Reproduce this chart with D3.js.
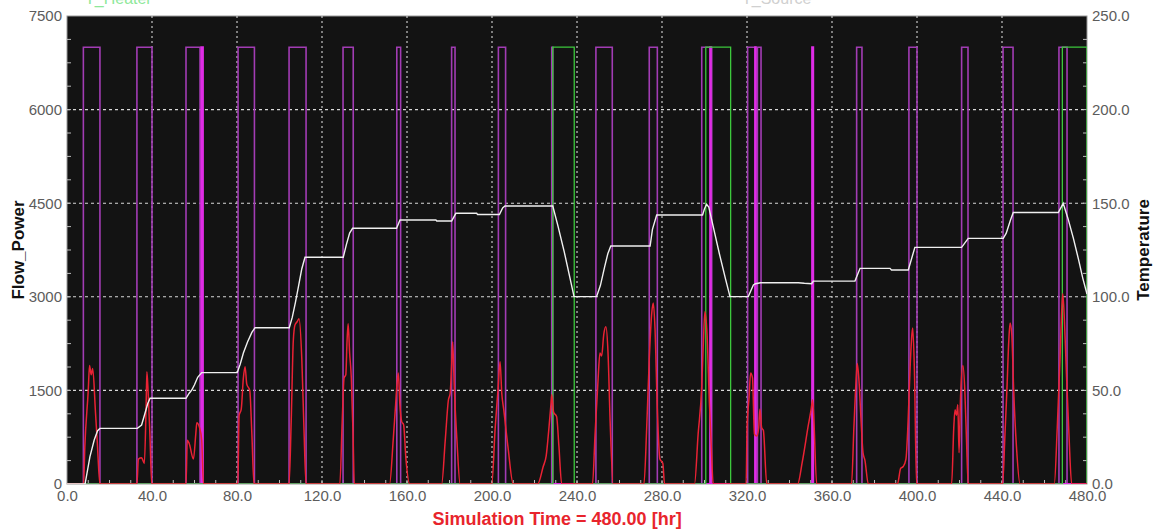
<!DOCTYPE html>
<html>
<head>
<meta charset="utf-8">
<script src="https://cdn.jsdelivr.net/npm/d3@7"></script>
<style>
	body { margin: 0; background: #fff; }
	svg { display: block; font-family: "Liberation Sans", Arial, sans-serif; }
</style>
</head>
<body>
<div id="chart"></div>
<script>
// Chart size (plot box in pixels)
var width = 1160, height = 531;
var plotLeft = 67, plotRight = 1087, plotTop = 16, plotBottom = 484;

// Time axis [hr]
var timeTicks = [0, 40, 80, 120, 160, 200, 240, 280, 320, 360, 400, 440, 480];
var powerTicks = [0, 1500, 3000, 4500, 6000, 7500];
var tempTicks = [0, 50, 100, 150, 200, 250];

// Pump on / off intervals [start hr, end hr], pulse level on the power axis
var pulseLevel = 7000;
var purplePulses = [
	[7.7, 15.5], [32.9, 40.0], [56.0, 62.6], [80.5, 88.2], [104.5, 112.5],
	[129.9, 134.7], [155.2, 157.0], [181.0, 182.6], [203.0, 206.4], [228.1, 228.6],
	[248.9, 256.6], [274.0, 277.8], [298.7, 303.4], [320.3, 323.8], [324.9, 326.6],
	[371.6, 374.1], [396.2, 400.0], [421.0, 424.0], [440.5, 445.2], [466.8, 470.6]
];
var magentaPulses = [
	[63.2, 64.0], [302.6, 303.0], [350.6, 351.2], [323.8, 324.2]
];
var greenPulses = [
	[228.6, 238.7], [300.6, 312.3], [468.4, 480]
];

// Flow_Power [t, value]
var flowPower = [
	[0, 0], [7.8, 0], [8.4, 600], [10.0, 1500], [10.6, 1900], [11.4, 1750], [12.1, 1850], [13.4, 1150], [14.2, 700], [15.5, 0],
	[32.9, 0], [33.6, 400], [35.1, 420], [36.4, 330], [37.2, 1200], [37.6, 1800], [38.2, 1460], [39.0, 800], [39.9, 0],
	[56.0, 0], [56.6, 700], [57.5, 650], [59.5, 400], [60.6, 800], [61.1, 980], [62.4, 900], [63.4, 700], [64.2, 0],
	[80.4, 0], [81.0, 1100], [82.0, 1200], [83.0, 1700], [83.8, 1880], [84.6, 1600], [86.0, 1500], [87.0, 800], [88.0, 0],
	[104.5, 0], [105.5, 1000], [106.5, 2300], [107.3, 2550], [108.3, 2600], [109.2, 2650], [110.5, 2000], [111.5, 900], [112.5, 0],
	[128.4, 0], [129.5, 1000], [130.4, 1700], [131.2, 1750], [131.8, 2300], [132.3, 2570], [133.0, 2100], [133.8, 1700], [134.6, 800], [135.2, 0],
	[151.8, 0], [153.5, 700], [154.5, 1200], [155.3, 1600], [155.9, 1780], [156.6, 1300], [157.5, 1000], [158.4, 950], [159.5, 400], [161.3, 0],
	[176.3, 0], [178.0, 700], [179.5, 1350], [180.3, 1450], [181.0, 1900], [181.5, 2280], [182.2, 1600], [183.5, 700], [185.0, 0],
	[199.9, 0], [201.5, 900], [202.8, 1500], [203.8, 1960], [204.6, 1450], [205.5, 1200], [207.5, 600], [210.0, 0],
	[221.5, 0], [224.1, 280], [225.5, 450], [226.8, 900], [227.8, 1300], [228.1, 1430], [229.0, 1150], [230.4, 1080], [231.5, 600], [232.8, 0],
	[247.3, 0], [248.5, 800], [249.8, 1600], [250.8, 2100], [251.6, 2050], [252.6, 2400], [253.6, 2520], [254.6, 2100], [255.6, 1000], [257.0, 0],
	[271.5, 0], [272.8, 900], [274.0, 2000], [275.2, 2750], [275.9, 2900], [276.7, 2500], [277.8, 1200], [279.0, 400], [280.4, 330], [281.2, 0],
	[295.3, 0], [297.0, 800], [298.7, 1560], [299.5, 2300], [300.2, 2760], [301.2, 2400], [302.3, 1300], [303.2, 600], [304.1, 0],
	[319.6, 0], [320.0, 860], [321.0, 1400], [321.7, 1780], [322.6, 1700], [323.5, 800], [324.6, 770], [325.5, 900], [326.1, 1200], [326.9, 900], [327.7, 860], [329.3, 0],
	[343.8, 0], [346.0, 350], [348.9, 950], [350.2, 1200], [350.9, 1350], [351.5, 1000], [352.8, 0],
	[369.2, 0], [370.3, 900], [371.4, 1700], [371.9, 1930], [372.8, 1600], [373.7, 1000], [374.6, 500], [375.5, 380], [377.1, 0],
	[390.8, 0], [392.3, 250], [393.5, 280], [394.8, 400], [395.8, 1000], [396.8, 1900], [397.6, 2400], [398.0, 2500], [398.8, 1800], [399.8, 0],
	[416.3, 0], [417.3, 900], [417.9, 1190], [418.6, 1100], [419.2, 1270], [419.8, 500], [420.5, 1400], [421.6, 1900], [422.5, 1500], [423.3, 700], [424.1, 0],
	[440.3, 0], [441.4, 800], [442.3, 1500], [443.2, 2300], [443.8, 2580], [444.6, 2400], [445.5, 1500], [446.8, 600], [448.5, 0],
	[464.6, 0], [466.0, 900], [467.3, 2000], [468.0, 2700], [468.6, 3050], [469.4, 2600], [470.4, 1700], [471.5, 800], [472.8, 0],
	[480, 0]
];

// Temperature [t, value]
var temperature = [
	[0, 0], [8.5, 0], [10.8, 14.6], [12.8, 23.5], [14.4, 28.5], [15.5, 29.7], [33.1, 29.7], [35.1, 31.5], [36.5, 37], [38, 43], [39.1, 45.8],
	[56, 45.8], [57.5, 48.5], [58.7, 50.2], [60, 53], [61.5, 57], [63.4, 59.5], [80.1, 59.5], [81.5, 64], [83, 70], [85, 76], [87, 81], [88.5, 83.5],
	[104.6, 83.5], [106, 89], [107.5, 97], [109, 106], [110.5, 115], [112, 121.1], [130, 121.1], [131.5, 128], [133, 134], [134.4, 136.6],
	[155.1, 136.6], [156.7, 141], [173.6, 141], [174, 140.5], [181, 140.5], [183, 144.6], [192.8, 144.6], [193.2, 144], [203.5, 144], [205, 147.5], [206.1, 148.5],
	[228.6, 148.5], [231, 138], [234, 124], [236.5, 111], [238.6, 100.1], [249.2, 100.1], [251, 106], [253, 116], [254.5, 123], [255.9, 127.1],
	[274.4, 127.1], [275.5, 136], [277.5, 143.7], [299.1, 143.7], [300, 147], [301, 149.4], [302, 148], [304, 138], [307, 123], [310, 109], [312, 100.1],
	[320.6, 100.1], [323, 106.3], [324, 107], [326.4, 107.5], [344.1, 107.5], [347, 107.2], [350.4, 107], [351.2, 108.4], [370.8, 108.4], [373.2, 115.2],
	[387.3, 115.2], [388, 114.3], [395.9, 114.3], [399, 126.4], [421, 126.4], [424.1, 131.2], [440.6, 131.2], [442, 134], [444, 141], [445.3, 145],
	[466.5, 145], [468.8, 149.9], [471, 142], [473.6, 131.2], [476, 120], [478, 110], [480, 101.5]
];

var x = d3.scaleLinear().domain([0, 480]).range([plotLeft, plotRight]);
var yP = d3.scaleLinear().domain([0, 7500]).range([plotBottom, plotTop]);
var yT = d3.scaleLinear().domain([0, 250]).range([plotBottom, plotTop]);

var svg = d3.select("#chart").append("svg")
	.attr("width", width)
	.attr("height", height);

// Legend names, cut off at the top edge in the picture
svg.append("text").attr("x", 85).attr("y", 4)
	.attr("fill", "#8ee89a").attr("font-size", 16).text("T_Heater");
svg.append("text").attr("x", 742).attr("y", 4)
	.attr("fill", "#d0d0d0").attr("font-size", 16).text("T_Source");

svg.append("rect")
	.attr("x", plotLeft).attr("y", plotTop)
	.attr("width", plotRight - plotLeft).attr("height", plotBottom - plotTop)
	.attr("fill", "#131313")
	.attr("stroke", "#9a9a9a").attr("stroke-width", 1);

svg.append("defs").append("clipPath").attr("id", "plot")
	.append("rect").attr("x", plotLeft).attr("y", plotTop - 1)
	.attr("width", plotRight - plotLeft).attr("height", plotBottom - plotTop + 1);

// Grid
var grid = svg.append("g").attr("stroke", "#d8d8d8").attr("stroke-width", 1.1);
timeTicks.slice(1, -1).forEach(function(t) {
	grid.append("line").attr("x1", x(t)).attr("x2", x(t)).attr("y1", plotTop).attr("y2", plotBottom)
		.attr("stroke-dasharray", "2,3");
});
powerTicks.slice(1, -1).forEach(function(v) {
	grid.append("line").attr("x1", plotLeft).attr("x2", plotRight).attr("y1", yP(v)).attr("y2", yP(v))
		.attr("stroke-dasharray", "3,3");
});

// Minor ticks inside the frame
var minor = svg.append("g").attr("stroke", "#bdbdbd").attr("stroke-width", 1);
d3.range(10, 480, 10).forEach(function(t) {
	minor.append("line").attr("x1", x(t)).attr("x2", x(t)).attr("y1", plotBottom).attr("y2", plotBottom - 4);
});
d3.range(375, 7500, 375).forEach(function(v) {
	minor.append("line").attr("x1", plotLeft).attr("x2", plotLeft + 4).attr("y1", yP(v)).attr("y2", yP(v));
	minor.append("line").attr("x1", plotRight).attr("x2", plotRight - 4).attr("y1", yP(v)).attr("y2", yP(v));
});

function pulsePath(pulses) {
	var pts = [[0, 0]];
	pulses.forEach(function(p) {
		pts.push([p[0], 0], [p[0], pulseLevel], [p[1], pulseLevel], [p[1], 0]);
	});
	pts.push([480, 0]);
	return d3.line().x(function(d) { return x(d[0]); }).y(function(d) { return yP(d[1]); })(pts);
}

var plot = svg.append("g").attr("clip-path", "url(#plot)").attr("fill", "none");

plot.append("path").attr("d", pulsePath(purplePulses))
	.attr("stroke", "#a23cb4").attr("stroke-width", 1.6);
plot.append("path").attr("d", pulsePath(magentaPulses))
	.attr("stroke", "#e02ce6").attr("stroke-width", 1.8);
plot.append("path").attr("d", pulsePath(greenPulses))
	.attr("stroke", "#3cc83c").attr("stroke-width", 1.3);

plot.append("path")
	.datum(flowPower)
	.attr("d", d3.line().curve(d3.curveMonotoneX)
		.x(function(d) { return x(d[0]); })
		.y(function(d) { return yP(d[1]); }))
	.attr("stroke", "#ea2234").attr("stroke-width", 1.5);

plot.append("path")
	.datum(temperature)
	.attr("d", d3.line()
		.x(function(d) { return x(d[0]); })
		.y(function(d) { return yT(d[1]); }))
	.attr("stroke", "#f0f0f0").attr("stroke-width", 1.4);

// Axes
var axisStyle = function(g) {
	g.select(".domain").remove();
	g.selectAll("line").remove();
	g.selectAll("text").attr("fill", "#5c5c5c").attr("font-size", 15)
		.attr("font-family", "Liberation Sans, Arial, sans-serif");
};

svg.append("g").attr("transform", "translate(0," + plotBottom + ")")
	.call(d3.axisBottom(x).tickValues(timeTicks).tickSize(0).tickPadding(6)
		.tickFormat(d3.format(".1f")))
	.call(axisStyle);

svg.append("g").attr("transform", "translate(" + plotLeft + ",0)")
	.call(d3.axisLeft(yP).tickValues(powerTicks).tickSize(0).tickPadding(5)
		.tickFormat(d3.format("d")))
	.call(axisStyle);

svg.append("g").attr("transform", "translate(" + plotRight + ",0)")
	.call(d3.axisRight(yT).tickValues(tempTicks).tickSize(0).tickPadding(5)
		.tickFormat(d3.format(".1f")))
	.call(axisStyle);

// Titles
svg.append("text")
	.attr("transform", "translate(24," + (plotTop + plotBottom) / 2 + ") rotate(-90)")
	.attr("text-anchor", "middle").attr("font-size", 17).attr("font-weight", "bold")
	.attr("fill", "#111").text("Flow_Power");

svg.append("text")
	.attr("transform", "translate(1149," + (plotTop + plotBottom) / 2 + ") rotate(-90)")
	.attr("text-anchor", "middle").attr("font-size", 17).attr("font-weight", "bold")
	.attr("fill", "#111").text("Temperature");

svg.append("text")
	.attr("x", 557).attr("y", 525)
	.attr("text-anchor", "middle").attr("font-size", 18).attr("font-weight", "bold")
	.attr("fill", "#e8242c").text("Simulation Time = 480.00 [hr]");
</script>
</body>
</html>
